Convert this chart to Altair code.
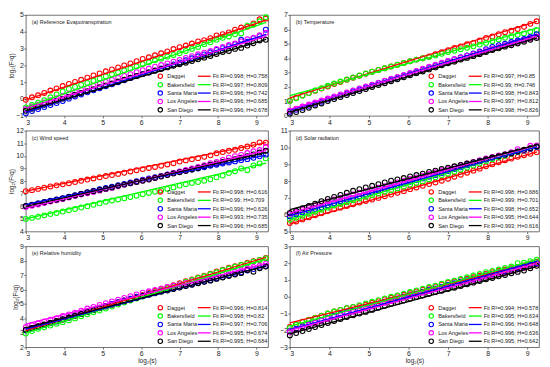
import altair as alt
import pandas as pd

FONT = "Liberation Sans"

X = [3.00, 3.16, 3.32, 3.48, 3.64, 3.80, 3.96, 4.12, 4.28, 4.44,
     4.60, 4.76, 4.92, 5.08, 5.24, 5.40, 5.56, 5.72, 5.88, 6.04,
     6.20, 6.36, 6.52, 6.68, 6.84, 7.00, 7.16, 7.32, 7.48, 7.64,
     7.80, 7.96, 8.12, 8.28, 8.44, 8.60, 8.76, 8.92, 9.08, 9.24]
FIT_X = [3.0, 9.25]
X_DOMAIN = [3, 9.3]

STATIONS = ["Dagget", "Bakersfield", "Santa Maria", "Los Angeles", "San Diego"]
COLORS = ["#ff0000", "#00ff00", "#0000ff", "#ff00ff", "#000000"]

# ---------------- (a) Reference Evapotranspiration
A_TITLE = "(a) Reference Evapotranspiration"
A_DOMAIN = [-1, 5]
A_R2 = [0.998, 0.997, 0.996, 0.996, 0.996]
A_H = [0.758, 0.809, 0.742, 0.685, 0.678]
A_FIT = [[-0.05, 4.69], [-0.50, 4.56], [-0.80, 3.84], [-0.55, 3.73], [-0.70, 3.54]]
A_Y = [
    [-0.05, 0.10, 0.22, 0.36, 0.50, 0.63, 0.77, 0.90, 1.02, 1.14,
     1.27, 1.40, 1.52, 1.65, 1.76, 1.88, 2.00, 2.12, 2.25, 2.38,
     2.48, 2.60, 2.72, 2.83, 2.97, 3.08, 3.18, 3.30, 3.42, 3.50,
     3.62, 3.78, 3.86, 3.96, 4.12, 4.25, 4.30, 4.50, 4.74, 4.78],
    [-0.50, -0.36, -0.22, -0.07, 0.10, 0.27, 0.45, 0.60, 0.72, 0.84,
     0.96, 1.08, 1.22, 1.34, 1.46, 1.58, 1.70, 1.82, 1.94, 2.08,
     2.18, 2.30, 2.40, 2.52, 2.62, 2.72, 2.86, 2.98, 3.10, 3.25,
     3.38, 3.52, 3.64, 3.72, 3.85, 3.90, 4.36, 4.42, 4.62, 4.86],
    [-0.85, -0.72, -0.60, -0.48, -0.36, -0.24, -0.12, 0.02, 0.15, 0.27,
     0.40, 0.52, 0.64, 0.76, 0.88, 1.00, 1.12, 1.24, 1.36, 1.48,
     1.58, 1.70, 1.82, 1.94, 2.06, 2.18, 2.30, 2.42, 2.54, 2.65,
     2.78, 2.92, 3.02, 3.14, 3.26, 3.52, 3.40, 3.62, 3.74, 4.12],
    [-0.60, -0.46, -0.34, -0.21, -0.08, 0.05, 0.18, 0.30, 0.42, 0.54,
     0.66, 0.78, 0.90, 1.02, 1.14, 1.26, 1.37, 1.48, 1.60, 1.71,
     1.81, 1.92, 2.02, 2.12, 2.22, 2.32, 2.44, 2.55, 2.66, 2.76,
     2.86, 2.98, 3.10, 3.22, 3.30, 3.42, 3.55, 3.64, 3.80, 3.94],
    [-0.70, -0.58, -0.46, -0.34, -0.22, -0.10, 0.02, 0.14, 0.25, 0.36,
     0.47, 0.58, 0.70, 0.81, 0.92, 1.04, 1.14, 1.26, 1.37, 1.48,
     1.58, 1.68, 1.78, 1.88, 1.98, 2.07, 2.16, 2.26, 2.36, 2.46,
     2.56, 2.68, 2.80, 2.86, 2.98, 3.04, 3.18, 3.32, 3.48, 3.52],
]

# ---------------- (b) Temperature
B_TITLE = "(b) Temperature"
B_DOMAIN = [0, 7]
B_R2 = [0.997, 0.99, 0.998, 0.997, 0.998]
B_H = [0.85, 0.748, 0.843, 0.812, 0.826]
B_FIT = [[1.25, 6.56], [1.40, 6.08], [0.40, 5.67], [0.45, 5.53], [0.25, 5.41]]
B_Y = [
    [1.05, 1.25, 1.42, 1.58, 1.74, 1.90, 2.04, 2.20, 2.35, 2.50,
     2.64, 2.78, 2.92, 3.06, 3.18, 3.30, 3.42, 3.54, 3.66, 3.78,
     3.90, 4.00, 4.12, 4.28, 4.42, 4.55, 4.70, 4.82, 4.96, 5.06,
     5.22, 5.40, 5.50, 5.66, 5.80, 5.90, 6.02, 6.18, 6.38, 6.56],
    [1.02, 1.22, 1.40, 1.58, 1.75, 1.92, 2.08, 2.24, 2.38, 2.52,
     2.66, 2.80, 2.94, 3.06, 3.18, 3.30, 3.42, 3.54, 3.66, 3.78,
     3.90, 4.00, 4.08, 4.18, 4.30, 4.42, 4.52, 4.62, 4.72, 4.82,
     4.94, 5.06, 5.18, 5.30, 5.42, 5.52, 5.62, 5.72, 5.84, 5.96],
    [0.28, 0.42, 0.56, 0.70, 0.84, 0.98, 1.14, 1.28, 1.42, 1.56,
     1.70, 1.84, 1.98, 2.12, 2.26, 2.40, 2.52, 2.66, 2.80, 2.94,
     3.08, 3.22, 3.36, 3.50, 3.64, 3.78, 3.92, 4.06, 4.18, 4.32,
     4.46, 4.62, 4.78, 4.90, 5.00, 5.12, 5.22, 5.34, 5.48, 5.66],
    [0.36, 0.50, 0.64, 0.78, 0.92, 1.06, 1.20, 1.34, 1.48, 1.62,
     1.76, 1.90, 2.04, 2.16, 2.30, 2.44, 2.58, 2.70, 2.84, 2.98,
     3.12, 3.26, 3.40, 3.54, 3.68, 3.80, 3.92, 4.04, 4.16, 4.28,
     4.40, 4.54, 4.66, 4.78, 4.90, 5.00, 5.12, 5.24, 5.38, 5.50],
    [0.15, 0.26, 0.40, 0.56, 0.72, 0.86, 1.02, 1.16, 1.30, 1.44,
     1.58, 1.72, 1.86, 2.00, 2.14, 2.26, 2.40, 2.54, 2.68, 2.82,
     2.96, 3.08, 3.22, 3.36, 3.50, 3.64, 3.76, 3.90, 4.02, 4.14,
     4.28, 4.42, 4.56, 4.68, 4.80, 4.90, 5.02, 5.14, 5.28, 5.40],
]

# ---------------- (c) Wind speed
C_TITLE = "(c) Wind speed"
C_DOMAIN = [4, 12]
C_R2 = [0.998, 0.99, 0.996, 0.993, 0.996]
C_H = [0.616, 0.709, 0.626, 0.735, 0.685]
C_FIT = [[7.20, 11.05], [5.00, 9.43], [6.15, 10.06], [5.85, 10.44], [6.00, 10.28]]
C_Y = [
    [7.20, 7.28, 7.38, 7.48, 7.57, 7.66, 7.74, 7.83, 7.92, 8.02,
     8.12, 8.21, 8.30, 8.40, 8.48, 8.57, 8.66, 8.76, 8.86, 8.95,
     9.04, 9.12, 9.22, 9.32, 9.42, 9.55, 9.64, 9.74, 9.82, 9.92,
     10.04, 10.20, 10.30, 10.40, 10.48, 10.62, 10.74, 10.88, 11.06, 11.04],
    [5.00, 5.08, 5.18, 5.28, 5.38, 5.47, 5.58, 5.68, 5.78, 5.90,
     6.00, 6.12, 6.24, 6.36, 6.46, 6.54, 6.64, 6.74, 6.84, 6.96,
     7.06, 7.16, 7.26, 7.38, 7.50, 7.64, 7.74, 7.84, 7.92, 8.02,
     8.14, 8.30, 8.44, 8.64, 8.78, 9.00, 8.86, 9.24, 9.40, 9.80],
    [6.00, 6.10, 6.22, 6.34, 6.44, 6.54, 6.64, 6.76, 6.88, 7.00,
     7.12, 7.24, 7.36, 7.46, 7.56, 7.68, 7.78, 7.88, 7.98, 8.10,
     8.20, 8.30, 8.40, 8.52, 8.64, 8.74, 8.84, 8.92, 9.00, 9.10,
     9.22, 9.30, 9.40, 9.48, 9.56, 9.66, 9.74, 9.84, 9.96, 10.10],
    [5.95, 6.04, 6.14, 6.26, 6.38, 6.48, 6.58, 6.70, 6.82, 6.94,
     7.04, 7.14, 7.24, 7.36, 7.46, 7.58, 7.70, 7.82, 7.92, 8.04,
     8.14, 8.26, 8.38, 8.50, 8.64, 8.76, 8.88, 9.00, 9.12, 9.26,
     9.42, 9.52, 9.68, 9.86, 9.98, 10.08, 10.22, 10.36, 10.46, 10.70],
    [6.02, 6.12, 6.22, 6.32, 6.42, 6.52, 6.62, 6.74, 6.86, 6.98,
     7.10, 7.20, 7.30, 7.40, 7.50, 7.62, 7.72, 7.82, 7.92, 8.02,
     8.12, 8.24, 8.36, 8.48, 8.60, 8.70, 8.80, 8.92, 9.04, 9.18,
     9.30, 9.40, 9.52, 9.62, 9.74, 9.86, 9.98, 10.12, 10.26, 10.40],
]

# ---------------- (d) Solar radiation
D_TITLE = "(d) Solar radiation"
D_DOMAIN = [5, 11]
D_R2 = [0.998, 0.999, 0.998, 0.995, 0.993]
D_H = [0.686, 0.701, 0.652, 0.644, 0.616]
D_FIT = [[5.45, 9.74], [5.70, 10.08], [5.95, 10.03], [6.10, 10.13], [6.30, 10.15]]
D_Y = [
    [5.50, 5.60, 5.72, 5.84, 5.96, 6.08, 6.22, 6.32, 6.42, 6.52,
     6.62, 6.72, 6.82, 6.90, 7.00, 7.10, 7.20, 7.30, 7.40, 7.52,
     7.62, 7.72, 7.82, 7.92, 8.02, 8.14, 8.26, 8.38, 8.50, 8.62,
     8.74, 8.88, 9.00, 9.12, 9.24, 9.34, 9.44, 9.54, 9.62, 9.72],
    [5.70, 5.82, 5.94, 6.06, 6.18, 6.30, 6.42, 6.54, 6.64, 6.74,
     6.86, 6.96, 7.06, 7.16, 7.26, 7.36, 7.46, 7.56, 7.66, 7.78,
     7.88, 7.98, 8.10, 8.22, 8.34, 8.44, 8.56, 8.68, 8.80, 8.92,
     9.04, 9.18, 9.30, 9.40, 9.50, 9.62, 9.72, 9.82, 9.94, 10.06],
    [5.90, 6.02, 6.14, 6.24, 6.34, 6.44, 6.56, 6.68, 6.80, 6.90,
     7.00, 7.10, 7.20, 7.32, 7.44, 7.54, 7.64, 7.74, 7.86, 7.96,
     8.06, 8.16, 8.26, 8.36, 8.48, 8.60, 8.72, 8.82, 8.94, 9.06,
     9.16, 9.28, 9.40, 9.48, 9.56, 9.66, 9.74, 9.82, 9.92, 10.02],
    [6.05, 6.16, 6.28, 6.40, 6.52, 6.64, 6.78, 6.90, 7.00, 7.10,
     7.20, 7.30, 7.40, 7.50, 7.60, 7.70, 7.80, 7.92, 8.02, 8.12,
     8.22, 8.32, 8.42, 8.52, 8.64, 8.74, 8.84, 8.94, 9.04, 9.14,
     9.24, 9.34, 9.44, 9.52, 9.60, 9.72, 9.90, 9.84, 10.10, 10.12],
    [6.10, 6.24, 6.38, 6.52, 6.66, 6.80, 6.94, 7.06, 7.18, 7.30,
     7.42, 7.52, 7.62, 7.72, 7.82, 7.92, 8.02, 8.10, 8.18, 8.28,
     8.36, 8.44, 8.54, 8.62, 8.72, 8.80, 8.88, 8.96, 9.04, 9.12,
     9.20, 9.30, 9.40, 9.48, 9.58, 9.66, 9.76, 9.86, 9.96, 10.06],
]

# ---------------- (e) Relative humidity
E_TITLE = "(e) Relative humidity"
E_DOMAIN = [2, 9]
E_R2 = [0.996, 0.998, 0.997, 0.995, 0.995]
E_H = [0.814, 0.82, 0.706, 0.674, 0.684]
E_FIT = [[3.15, 8.24], [3.00, 8.13], [3.25, 7.66], [3.60, 7.81], [3.35, 7.63]]
E_Y = [
    [3.20, 3.32, 3.44, 3.56, 3.68, 3.80, 3.92, 4.06, 4.20, 4.34,
     4.48, 4.60, 4.74, 4.86, 5.00, 5.12, 5.24, 5.36, 5.50, 5.62,
     5.76, 5.90, 6.02, 6.16, 6.30, 6.44, 6.58, 6.70, 6.84, 6.96,
     7.10, 7.26, 7.38, 7.52, 7.62, 7.72, 7.86, 7.96, 8.06, 8.20],
    [2.95, 3.12, 3.28, 3.38, 3.50, 3.62, 3.74, 3.86, 4.00, 4.14,
     4.28, 4.42, 4.54, 4.68, 4.82, 4.96, 5.10, 5.24, 5.38, 5.52,
     5.66, 5.80, 5.94, 6.08, 6.22, 6.38, 6.52, 6.66, 6.80, 6.92,
     7.06, 7.20, 7.34, 7.46, 7.58, 7.70, 7.82, 7.94, 8.06, 8.16],
    [3.18, 3.30, 3.42, 3.54, 3.66, 3.78, 3.92, 4.06, 4.20, 4.34,
     4.46, 4.60, 4.74, 4.86, 5.00, 5.12, 5.24, 5.36, 5.48, 5.58,
     5.68, 5.78, 5.88, 5.98, 6.06, 6.16, 6.26, 6.36, 6.46, 6.56,
     6.66, 6.78, 6.88, 7.00, 7.10, 7.20, 7.32, 7.42, 7.52, 7.64],
    [3.40, 3.54, 3.66, 3.78, 3.90, 4.02, 4.16, 4.28, 4.40, 4.54,
     4.68, 4.80, 4.94, 5.06, 5.18, 5.30, 5.42, 5.54, 5.66, 5.78,
     5.88, 5.98, 6.08, 6.18, 6.26, 6.36, 6.46, 6.56, 6.64, 6.74,
     6.84, 6.94, 7.04, 7.14, 7.24, 7.34, 7.46, 7.56, 7.66, 7.80],
    [3.22, 3.34, 3.46, 3.58, 3.70, 3.82, 3.94, 4.06, 4.18, 4.30,
     4.44, 4.56, 4.70, 4.82, 4.94, 5.06, 5.18, 5.30, 5.42, 5.54,
     5.64, 5.74, 5.84, 5.94, 6.04, 6.14, 6.24, 6.34, 6.44, 6.54,
     6.62, 6.74, 6.84, 6.94, 7.04, 7.14, 7.36, 7.24, 7.48, 7.60],
]

# ---------------- (f) Air Pressure
F_TITLE = "(f) Air Pressure"
F_DOMAIN = [-3, 3]
F_R2 = [0.994, 0.995, 0.996, 0.996, 0.995]
F_H = [0.578, 0.634, 0.648, 0.636, 0.642]
F_FIT = [[-1.55, 2.06], [-1.75, 2.21], [-1.95, 2.10], [-2.00, 1.98], [-2.20, 1.81]]
F_Y = [
    [-1.80, -1.62, -1.48, -1.36, -1.24, -1.12, -1.00, -0.88, -0.78, -0.68,
     -0.62, -0.56, -0.46, -0.36, -0.26, -0.16, -0.06, 0.04, 0.12, 0.22,
     0.32, 0.42, 0.52, 0.62, 0.74, 0.84, 0.92, 1.00, 1.08, 1.16,
     1.26, 1.36, 1.46, 1.54, 1.62, 1.70, 1.78, 1.86, 1.98, 2.08],
    [-1.85, -1.66, -1.50, -1.38, -1.26, -1.14, -1.00, -0.88, -0.78, -0.68,
     -0.60, -0.50, -0.40, -0.30, -0.20, -0.10, 0.00, 0.08, 0.18, 0.28,
     0.38, 0.48, 0.58, 0.66, 0.78, 0.88, 0.96, 1.06, 1.16, 1.26,
     1.36, 1.46, 1.54, 1.62, 1.72, 1.80, 2.00, 2.02, 2.12, 2.20],
    [-2.05, -1.90, -1.76, -1.62, -1.50, -1.38, -1.24, -1.12, -1.02, -0.92,
     -0.82, -0.72, -0.62, -0.52, -0.42, -0.30, -0.20, -0.10, 0.00, 0.10,
     0.20, 0.30, 0.40, 0.50, 0.60, 0.70, 0.80, 0.90, 0.98, 1.06,
     1.16, 1.26, 1.36, 1.44, 1.52, 1.60, 1.70, 1.78, 1.90, 2.00],
    [-2.10, -1.96, -1.82, -1.68, -1.56, -1.44, -1.32, -1.20, -1.10, -1.00,
     -0.90, -0.80, -0.70, -0.58, -0.46, -0.36, -0.26, -0.16, -0.06, 0.04,
     0.14, 0.24, 0.34, 0.44, 0.54, 0.62, 0.72, 0.82, 0.90, 1.00,
     1.10, 1.20, 1.30, 1.38, 1.46, 1.56, 1.64, 1.72, 1.84, 1.94],
    [-2.30, -2.16, -2.04, -1.92, -1.80, -1.68, -1.56, -1.44, -1.32, -1.20,
     -1.10, -1.00, -0.90, -0.78, -0.66, -0.54, -0.42, -0.32, -0.22, -0.12,
     -0.02, 0.08, 0.18, 0.28, 0.36, 0.46, 0.54, 0.64, 0.74, 0.84,
     0.94, 1.04, 1.12, 1.22, 1.30, 1.40, 1.48, 1.56, 1.70, 1.84],
]

Y_TITLE = "log₂(F²q)"
X_TITLE = "log₂(s)"

# legend layout, in pixels measured from the plot's right / bottom edge
LEG_MARK = 109
LEG_NAME = 102
LEG_LINE = (71, 58)
LEG_FIT = 56
LEG_ROWS = [40, 31.5, 23, 14.5, 6]
TXT = "#222222"


def panel(title, ys, r2, hs, fits, domain, width, height, ytitle, xtitle):
    lo, hi = domain
    fit_labels = [f"Fit R²={r}; H={h}" for r, h in zip(r2, hs)]
    keys = STATIONS + fit_labels
    cs = alt.Scale(domain=keys, range=COLORS + COLORS)

    def px_x(off):
        return X_DOMAIN[1] - off / width * (X_DOMAIN[1] - X_DOMAIN[0])

    def px_y(off):
        return lo + off / height * (hi - lo)

    pts = pd.DataFrame([{"x": x, "y": y, "key": s}
                        for s, ser in zip(STATIONS, ys) for x, y in zip(X, ser)])
    lns = pd.DataFrame([{"x": x, "y": y, "key": f}
                        for f, ends in zip(fit_labels, fits) for x, y in zip(FIT_X, ends)])
    leg = pd.DataFrame([{"name": s, "fit": f, "ly": px_y(r),
                         "mx": px_x(LEG_MARK), "nx": px_x(LEG_NAME),
                         "l1": px_x(LEG_LINE[0]), "l2": px_x(LEG_LINE[1]),
                         "fx": px_x(LEG_FIT)}
                        for s, f, r in zip(STATIONS, fit_labels, LEG_ROWS)])

    xs = alt.Scale(domain=X_DOMAIN, nice=False, zero=False)
    ysc = alt.Scale(domain=domain, nice=False, zero=False)
    xax = alt.Axis(values=list(range(3, 10)), title=X_TITLE if xtitle else None)
    yax = alt.Axis(values=list(range(lo, hi + 1)), title=Y_TITLE if ytitle else None)

    def ex(f):
        return alt.X(f, type="quantitative", scale=xs, axis=xax)

    def ey(f):
        return alt.Y(f, type="quantitative", scale=ysc, axis=yax)

    p = alt.Chart(pts).mark_point(filled=False, shape="circle", size=24,
                                  strokeWidth=1.1, opacity=1).encode(
        x=ex("x"), y=ey("y"),
        color=alt.Color("key:N", scale=cs, legend=None))
    l = alt.Chart(lns).mark_line(strokeWidth=1.3).encode(
        x=ex("x"), y=ey("y"),
        color=alt.Color("key:N", scale=cs, legend=None))
    base = alt.Chart(leg)
    lm = base.mark_point(filled=False, shape="circle", size=20, strokeWidth=1.1,
                         opacity=1).encode(
        x=ex("mx"), y=ey("ly"),
        color=alt.Color("name:N", scale=cs, legend=None))
    ln = base.mark_text(align="left", baseline="middle", fontSize=5.6,
                        font=FONT, color=TXT).encode(
        x=ex("nx"), y=ey("ly"), text="name:N")
    lr = base.mark_rule(strokeWidth=1.3).encode(
        x=ex("l1"), x2="l2:Q", y=ey("ly"),
        color=alt.Color("fit:N", scale=cs, legend=None))
    lf = base.mark_text(align="left", baseline="middle", fontSize=5.6,
                        font=FONT, color=TXT).encode(
        x=ex("fx"), y=ey("ly"), text="fit:N")
    t = alt.Chart(alt.Data(values=[{"t": title}])).mark_text(
        align="left", baseline="middle", fontSize=5.5, font=FONT, color=TXT).encode(
        x=alt.value(6), y=alt.value(7), text="t:N")
    return alt.layer(p, l, lm, ln, lr, lf, t).properties(width=width, height=height)


WL, WR, H = 245, 252, 102
pa = panel(A_TITLE, A_Y, A_R2, A_H, A_FIT, A_DOMAIN, WL, H, True, False)
pc = panel(C_TITLE, C_Y, C_R2, C_H, C_FIT, C_DOMAIN, WL, H, True, False)
pe = panel(E_TITLE, E_Y, E_R2, E_H, E_FIT, E_DOMAIN, WL, H, True, True)
pb = panel(B_TITLE, B_Y, B_R2, B_H, B_FIT, B_DOMAIN, WR, H, False, False)
pd_ = panel(D_TITLE, D_Y, D_R2, D_H, D_FIT, D_DOMAIN, WR, H, False, False)
pf = panel(F_TITLE, F_Y, F_R2, F_H, F_FIT, F_DOMAIN, WR, H, False, True)

ind = dict(color="independent")
left = alt.vconcat(pa, pc, pe, spacing=0).resolve_scale(**ind)
right = alt.vconcat(pb, pd_, pf, spacing=0).resolve_scale(**ind)
chart = alt.hconcat(left, right, spacing=8).resolve_scale(**ind).properties(padding=0)

chart = chart.configure(font=FONT).configure_view(
    stroke="#4d4d4d", strokeWidth=0.8
).configure_axis(
    domain=False, grid=False, labelFontSize=7, labelColor="#262626",
    tickColor="#4d4d4d", tickSize=2, tickWidth=0.8, labelPadding=0.5,
    titleFontSize=6.5, titleFontWeight="normal", titleColor="#262626",
    titlePadding=1
)

chart.save("out.html", embed_options={"renderer": "svg", "actions": False})
